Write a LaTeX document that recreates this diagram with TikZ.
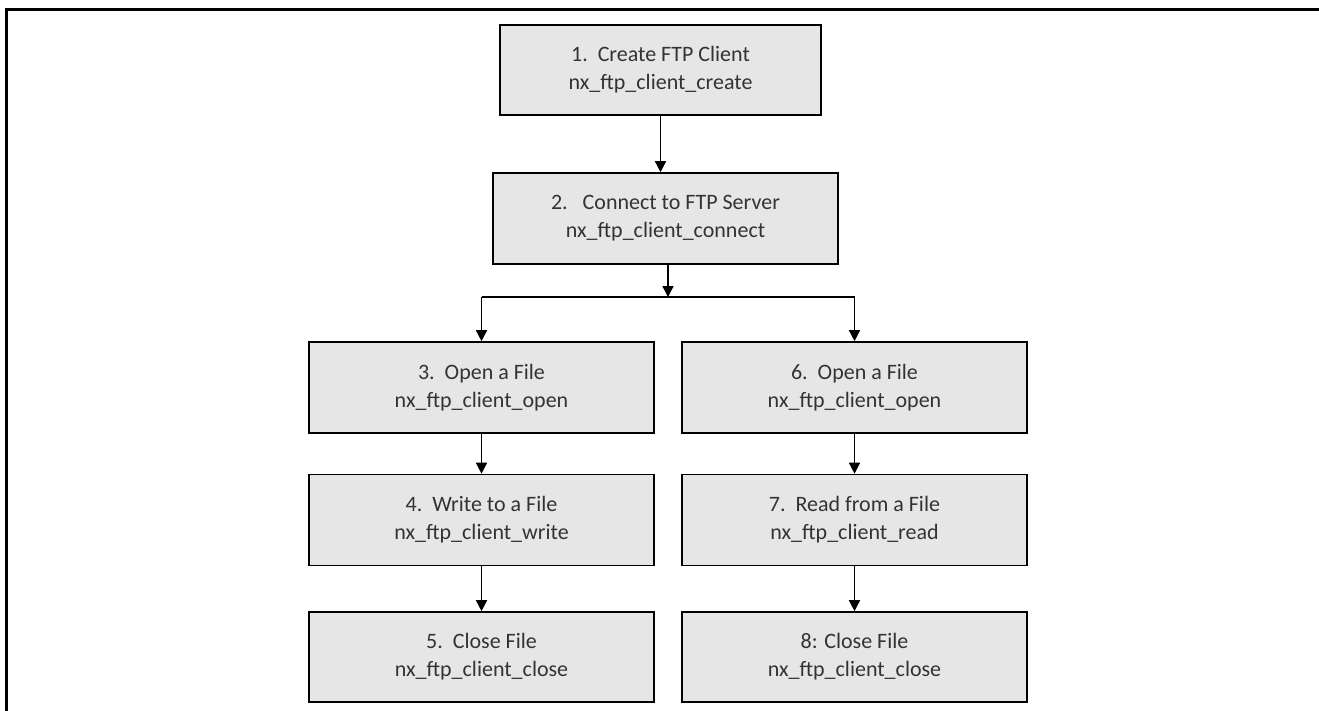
\documentclass[tikz,border=0pt]{standalone}
\usepackage{fontspec}
\setmainfont{Carlito}
\usetikzlibrary{arrows.meta}
\definecolor{boxfill}{HTML}{E7E6E6}
\definecolor{txt}{HTML}{333333}
\begin{document}
\begin{tikzpicture}[x=1pt,y=-1pt,
  stepbox/.style={draw=black, line width=1.6pt, fill=boxfill, minimum width=345pt, minimum height=91pt,
    inner sep=0pt, align=center, text=txt, font=\fontsize{22}{28}\selectfont},
  arr/.style={draw=black, line width=1.5pt, -{Triangle[width=11pt,length=11pt]}},
  conn/.style={draw=black, line width=1.5pt}]
\useasboundingbox (0,0) rectangle (1319,711);
\draw[line width=3pt] (6.5,711) -- (6.5,9.5) -- (1319,9.5);
\node[stepbox, minimum width=321pt, minimum height=90pt] (b1) at (660.5,70) {1.\ \ Create FTP Client\\nx\_ftp\_client\_create};
\node[stepbox] (b2) at (665.5,218.5) {2.\ \ \ Connect to FTP Server\\nx\_ftp\_client\_connect};
\node[stepbox] (b3) at (481.5,387.5) {3.\ \ Open a File\\nx\_ftp\_client\_open};
\node[stepbox] (b6) at (854.5,387.5) {6.\ \ Open a File\\nx\_ftp\_client\_open};
\node[stepbox] (b4) at (481.5,520) {4.\ \ Write to a File\\nx\_ftp\_client\_write};
\node[stepbox] (b7) at (854.5,520) {7.\ \ Read from a File\\nx\_ftp\_client\_read};
\node[stepbox, minimum height=90pt] (b5) at (481.5,657) {5.\ \ Close File\\nx\_ftp\_client\_close};
\node[stepbox, minimum height=90pt] (b8) at (854.5,657) {8: Close File\\nx\_ftp\_client\_close};
\coordinate (j) at (668,297);
\draw[arr] (b1.south) -- (b1.south |- b2.north);
\draw[arr] (b2.south -| j) -- (j);
\draw[conn] (b3.north |- j) -- (b6.north |- j);
\draw[arr] (b3.north |- j) -- (b3.north);
\draw[arr] (b6.north |- j) -- (b6.north);
\draw[arr] (b3.south) -- (b4.north);
\draw[arr] (b4.south) -- (b5.north);
\draw[arr] (b6.south) -- (b7.north);
\draw[arr] (b7.south) -- (b8.north);
\end{tikzpicture}
\end{document}
